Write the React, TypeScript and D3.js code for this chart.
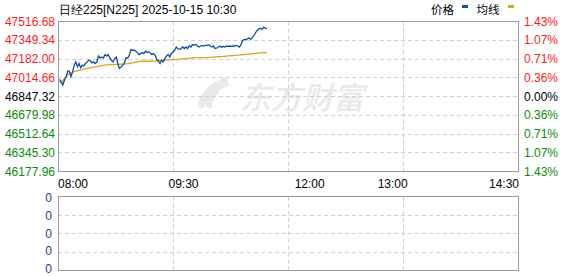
import React from "react";
import * as d3 from "d3";

const title = "日经225[N225] 2025-10-15 10:30";
const legendNames = ["价格", "均线"];
const priceTicks = [47516.68, 47349.34, 47182.0, 47014.66, 46847.32, 46679.98, 46512.64, 46345.3, 46177.96];
const pctTicks = ["1.43%", "1.07%", "0.71%", "0.36%", "0.00%", "0.36%", "0.71%", "1.07%", "1.43%"];
const timeLabels = ["08:00", "09:30", "12:00", "13:00", "14:30"];
const volTicks = [0, 0, 0, 0, 0];
const totalSlots = 284;

const prices = [
  47000, 46978, 46949, 46994, 47023, 47073, 47073, 47023, 47067, 47127,
  47156, 47112, 47142, 47103, 47127, 47120, 47142, 47156, 47171, 47165,
  47147, 47156, 47142, 47156, 47209, 47191, 47200, 47191, 47221, 47209,
  47221, 47191, 47171, 47156, 47186, 47200, 47133, 47097, 47112, 47127,
  47147, 47191, 47191, 47215, 47266, 47260, 47260,
  47251, 47239, 47221, 47230, 47239, 47230, 47251, 47239, 47245, 47236,
  47221, 47230, 47215, 47177, 47162, 47142, 47171, 47156, 47186, 47209,
  47221, 47200, 47230, 47245, 47260, 47289, 47275, 47266, 47275, 47289,
  47275, 47289, 47275, 47298, 47289, 47310, 47304, 47313, 47298,
  47289, 47298, 47304, 47298, 47304, 47304, 47310, 47298, 47289, 47298,
  47275, 47280, 47289, 47298, 47286, 47295, 47289, 47298, 47295, 47298,
  47295, 47298, 47298, 47304, 47298, 47289, 47310, 47348, 47357, 47354,
  47363, 47369, 47357, 47378, 47393, 47417, 47437, 47452, 47457, 47446,
  47466, 47457, 47452,
];

const avgPrices = [
  46985, 46968, 46990, 47010, 47025, 47040, 47050, 47058, 47064, 47069,
  47073, 47077, 47081, 47085, 47088, 47092, 47095, 47099, 47102, 47104,
  47107, 47109, 47111, 47114, 47117, 47120, 47123, 47126, 47128, 47129,
  47130, 47131, 47133, 47133, 47134, 47134, 47135, 47135, 47136, 47137,
  47138, 47139, 47140, 47142, 47144, 47147, 47150, 47153, 47156, 47159,
  47161, 47162, 47162, 47162, 47162, 47162, 47162, 47162, 47163, 47164,
  47166, 47167, 47168, 47170, 47171, 47172, 47172, 47173, 47174, 47175,
  47176, 47177, 47177, 47179, 47180, 47182, 47183, 47185, 47186, 47187,
  47189, 47190, 47191, 47193, 47194, 47195, 47195, 47195, 47195, 47195,
  47195, 47195, 47196, 47197, 47198, 47199, 47200, 47201, 47202, 47203,
  47204, 47205, 47206, 47208, 47209, 47210, 47212, 47213, 47214, 47216,
  47217, 47218, 47220, 47221, 47222, 47224, 47225, 47226, 47228, 47229,
  47230, 47232, 47234, 47235, 47237, 47239, 47239, 47240, 47240,
];

const W = 578;
const H = 276;
const L = 58;
const R = 518;
const T = 21.5;
const B = 171.5;
const VT = 196.5;
const VB = 270.5;

const FONT = "'Liberation Sans', Arial, sans-serif";
const RED = "#ff1a1a";
const GREEN = "#0a8a0a";
const PRICE_BLUE = "#0b4f9f";
const AVG_ORANGE = "#e0a11e";
const GRID = "#cfcfcf";
const FRAME = "#9a9a9a";

export default function App() {
  const x = d3.scaleLinear().domain([0, totalSlots]).range([L, R]);
  const y = d3.scaleLinear().domain([priceTicks[priceTicks.length - 1], priceTicks[0]]).range([B, T]);
  const vy = d3.scaleLinear().domain([0, volTicks.length - 1]).range([VT, VB]);
  const vLabelY = d3.scaleLinear().domain([0, volTicks.length - 1]).range([198, 269]);
  const xGrid = d3.scaleLinear().domain([0, timeLabels.length - 1]).range([L, R]);

  const priceLine = d3
    .line<number>()
    .x((_, i) => x(i + 1))
    .y((d) => y(d));

  const mid = Math.floor(priceTicks.length / 2);
  const colorFor = (i: number) => (i < mid ? RED : i === mid ? "#000" : GREEN);
  const crisp = (v: number) => Math.floor(v) + 0.5;

  const labelAnchor = ["start", "middle", "middle", "middle", "end"];
  const labelDx = [0, 10.5, 21.7, -10.3, 1];

  return (
    <svg
      width={W}
      height={H}
      style={{ position: "absolute", left: 0, top: 0, background: "#fff" }}
      fontFamily={FONT}
    >
      {/* watermark */}
      <g fill="#e9e9e9">
        <path d="M227 77 C211 81 199 94 198 105 C198 108 202 109 204 107 C208 98 216 90 229 86 Z" />
        <path d="M215 91 C208 96 205 102 206 107 L212 108 C212 101 215 96 220 92 Z" />
        <text x={240} y={109} fontSize={31} fontFamily="'Noto Sans CJK SC', sans-serif" fontWeight={500} fontStyle="italic">
          东方财富
        </text>
      </g>

      {/* main grid */}
      {priceTicks.slice(1, -1).map((v, i) => (
        <line key={"hg" + i} x1={L} x2={R} y1={crisp(y(v))} y2={crisp(y(v))} stroke={GRID} strokeDasharray="4,3" />
      ))}
      {timeLabels.slice(1, -1).map((_, i) => (
        <line key={"vg" + i} x1={crisp(xGrid(i + 1))} x2={crisp(xGrid(i + 1))} y1={T} y2={B} stroke={GRID} strokeDasharray="4,3" />
      ))}

      {/* lines */}
      <path d={priceLine(avgPrices) || ""} fill="none" stroke={AVG_ORANGE} strokeWidth={1.3} />
      <path d={priceLine(prices) || ""} fill="none" stroke={PRICE_BLUE} strokeWidth={1.3} />

      <rect x={L + 0.5} y={T} width={R - L} height={B - T} fill="none" stroke={FRAME} />

      {/* left labels */}
      {priceTicks.map((v, i) => (
        <text key={"pl" + i} x={55} y={y(v)} dy="0.35em" textAnchor="end" fontSize={12} fill={colorFor(i)}>
          {v.toFixed(2)}
        </text>
      ))}
      {/* right labels */}
      {pctTicks.map((s, i) => (
        <text key={"pr" + i} x={524} y={y(priceTicks[i])} dy="0.35em" fontSize={12} fill={colorFor(i)}>
          {s}
        </text>
      ))}

      {/* time labels */}
      {timeLabels.map((s, i) => (
        <text key={"tl" + i} x={xGrid(i) + labelDx[i]} y={184} dy="0.35em" textAnchor={labelAnchor[i] as any} fontSize={12} fill="#000">
          {s}
        </text>
      ))}

      {/* volume panel */}
      {volTicks.slice(1, -1).map((_, i) => (
        <line key={"vhg" + i} x1={L} x2={R} y1={crisp(vy(i + 1))} y2={crisp(vy(i + 1))} stroke={GRID} strokeDasharray="4,3" />
      ))}
      {timeLabels.slice(1, -1).map((_, i) => (
        <line key={"vvg" + i} x1={crisp(xGrid(i + 1))} x2={crisp(xGrid(i + 1))} y1={VT} y2={VB} stroke={GRID} strokeDasharray="4,3" />
      ))}
      <rect x={L + 0.5} y={VT} width={R - L} height={VB - VT} fill="none" stroke={FRAME} />
      {volTicks.map((v, i) => (
        <text key={"vl" + i} x={52} y={vLabelY(i)} dy="0.35em" textAnchor="end" fontSize={12} fill="#1a3c8c">
          {v}
        </text>
      ))}

      {/* title & legend */}
      <text x={59} y={9.5} dy="0.35em" fontSize={12} fill="#000">
        {title}
      </text>
      <text x={431} y={9.5} dy="0.35em" fontSize={11.5} fill="#000" fontFamily="'Noto Sans CJK SC', sans-serif">
        {legendNames[0]}
      </text>
      <rect x={462} y={5} width={6} height={3} fill="#0a55a8" />
      <text x={476.5} y={9.5} dy="0.35em" fontSize={11.5} fill="#000" fontFamily="'Noto Sans CJK SC', sans-serif">
        {legendNames[1]}
      </text>
      <rect x={508} y={5} width={6} height={3} fill={AVG_ORANGE} />
    </svg>
  );
}
